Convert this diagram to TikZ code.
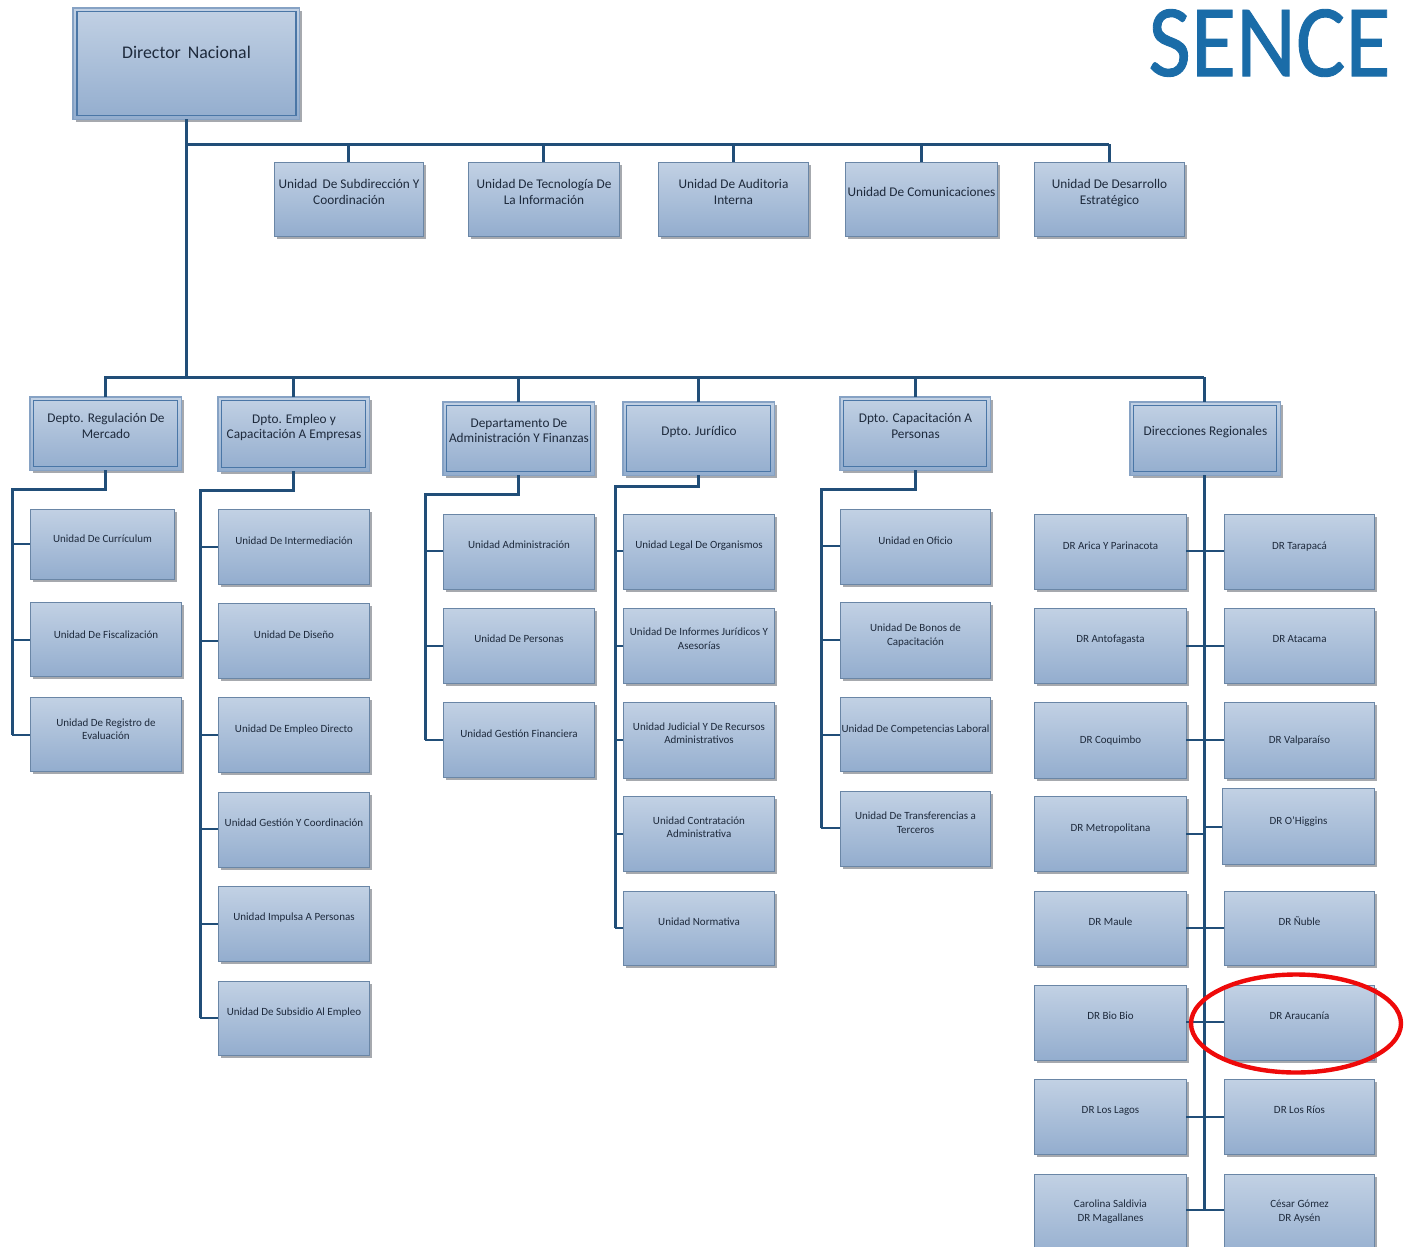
\documentclass[tikz,border=0pt]{standalone}
\usepackage{fontspec}
\setmainfont{Carlito}
\newfontfamily\logofont[FakeBold=0.9]{Carlito}
\usetikzlibrary{shadows,shapes.geometric}
\definecolor{conn}{HTML}{214E78}
\definecolor{boxtop}{HTML}{C2D1E4}
\definecolor{boxbot}{HTML}{93ADCE}
\definecolor{boxline}{HTML}{6A86A6}
\definecolor{frameline}{HTML}{4A76A6}
\definecolor{outerline}{HTML}{86A2C4}
\definecolor{shade}{HTML}{A6A9AE}
\definecolor{labelcol}{HTML}{1E2A3C}
\definecolor{logoblue}{HTML}{1A6CA8}
\definecolor{ringred}{HTML}{EE0A0A}
\tikzset{
  x=1pt,y=-1pt,
  boxbase/.style={rectangle,inner sep=0pt,outer sep=0pt,top color=boxtop,bottom color=boxbot,
    drop shadow={shadow xshift=3pt,shadow yshift=-3pt,fill=shade,opacity=1}},
  unitbox/.style={boxbase,draw=boxline,line width=1pt},
  headbox/.style={boxbase,draw=outerline,line width=1.2pt},
  innerframe/.style={draw=frameline,line width=1.2pt},
  lab/.style={align=center,inner sep=0pt,text=labelcol,font=\fontsize{11}{13.4}\selectfont},
  midlab/.style={lab,font=\fontsize{13.3}{15.6}\selectfont},
  toplab/.style={lab,font=\fontsize{17.8}{20}\selectfont},
  link/.style={draw=conn,line width=3pt,line join=miter},
  thinlink/.style={draw=conn,line width=2.6pt},
  redring/.style={ellipse,draw=ringred,line width=4.4pt,inner sep=0pt,fill=none},
}
% \bx{box style}{label style}{name}{x0}{y0}{x1}{y1}{label y}{text}
\newcommand{\bx}[9]{%
  \pgfmathsetmacro{\bw}{#6-#4-0.8}\pgfmathsetmacro{\bh}{#7-#5-0.8}%
  \pgfmathsetmacro{\cx}{(#4+#6-0.8)/2}\pgfmathsetmacro{\cy}{(#5+#7-0.8)/2}%
  \node[#1,minimum width=\bw pt,minimum height=\bh pt] (#3) at (\cx,\cy) {};%
  \pgfmathsetmacro{\tx}{(#4+#6)/2}\pgfmathsetmacro{\ty}{#8+1.4}%
  \node[#2] (#3-l) at (\tx,\ty) {\rule{0pt}{.75em}#9\rule[-.22em]{0pt}{.22em}};%
}
% head box with inner frame
\newcommand{\hd}[7]{%
  \bx{headbox}{midlab}{#1}{#2}{#3}{#4}{#5}{#6}{#7}%
  \draw[innerframe] ([shift={(3.6pt,-3.6pt)}]#1.north west) rectangle ([shift={(-3.6pt,3.6pt)}]#1.south east);%
}
% child box: {name}{x0}{y0}{x1}{y1}{label y}{text}{trunk x}{junction y}
\newcommand{\ch}[9]{%
  \bx{unitbox}{lab}{#1}{#2}{#3}{#4}{#5}{#6}{#7}%
  \coordinate (#1-j) at (#8,#9);%
  \draw[thinlink] (#1-j) -- (#1-j -| #1.west);%
}
\newcommand{\rg}[9]{%
  \bx{unitbox}{lab}{#1}{#2}{#3}{#4}{#5}{#6}{#7}%
  \coordinate (#1-j) at (#8,#9);%
  \draw[thinlink] (#1-j) -- (#1-j -| #1.east);%
}
\begin{document}
\begin{tikzpicture}
\clip (0,0) rectangle (1406,1247);
\fill[white] (0,0) rectangle (1406,1247);

% logo
\node[inner sep=0pt,text=logoblue,font=\logofont\fontsize{103}{103}\selectfont,xscale=0.9] (logo) at (1269.5,43) {SENCE};

% director
\bx{headbox}{toplab}{dir}{73}{8}{300}{120}{52}{Director\, Nacional}
\draw[innerframe] ([shift={(4pt,-3.6pt)}]dir.north west) rectangle ([shift={(-3.2pt,3.6pt)}]dir.south east);

% second row
\bx{unitbox}{midlab}{u1}{274}{162}{424}{237}{191.5}{Unidad\, De Subdirección Y\\Coordinación}
\bx{unitbox}{midlab}{u2}{468}{162}{620}{237}{191.5}{Unidad De Tecnología De\\La Información}
\bx{unitbox}{midlab}{u3}{658}{162}{809}{237}{191.5}{Unidad De Auditoria\\Interna}
\bx{unitbox}{midlab}{u4}{845}{162}{998}{237}{191.5}{Unidad De Comunicaciones}
\bx{unitbox}{midlab}{u5}{1034}{162}{1185}{237}{191.5}{Unidad De Desarrollo\\Estratégico}

\coordinate (busA) at (dir.south |- {(0,144)});
\coordinate (busAend) at (1109,144);
\coordinate (busB) at (dir.south |- {(0,377)});
\draw[link] (dir.south) -- (busB);
\draw[link] (busA) -- (busAend);
\foreach \u in {u1,u2,u3,u4,u5} \draw[link] (\u.north) -- (\u.north |- busA);

% departments
\hd{d1}{30}{397}{182}{471}{425.5}{Depto. Regulación De\\Mercado}
\hd{d2}{218}{397}{370}{472}{426}{Dpto. Empleo y\\Capacitación A Empresas}
\hd{d3}{443}{402}{595}{476}{430}{Departamento De\\Administración Y Finanzas}
\hd{d4}{623}{402}{775}{476}{431}{Dpto. Jurídico}
\hd{d5}{840}{397}{991}{471}{425.5}{Dpto. Capacitación A\\Personas}
\hd{d6}{1130}{402}{1281}{476}{431}{Direcciones Regionales}

\coordinate (busBl) at (104,377);
\coordinate (busBr) at (1204,377);
\draw[link] (busBl) -- (busBr);
\foreach \d in {d1,d2,d3,d4,d5} \draw[link] (\d.north) -- (\d.north |- busB);
\draw[link] (busBr) -- (busBr |- d6.north);

% D1 children
\ch{a1}{30}{509}{175}{580}{538}{Unidad De Currículum}{12}{544}
\ch{a2}{30}{602}{182}{677}{634}{Unidad De Fiscalización}{12}{640}
\ch{a3}{30}{697}{182}{772}{728.5}{Unidad De Registro de\\Evaluación}{12}{735}
\coordinate (tr1) at (12,489);
\draw[link] (d1.south) |- (tr1) -- (a3-j);

% D2 children
\ch{b1}{218}{509}{370}{585}{540}{Unidad De Intermediación}{200}{547}
\ch{b2}{218}{603}{370}{679}{634}{Unidad De Diseño}{200}{641}
\ch{b3}{218}{697}{370}{773}{728}{Unidad De Empleo Directo}{200}{735}
\ch{b4}{218}{792}{370}{868}{822}{Unidad Gestión Y Coordinación}{200}{829}
\ch{b5}{218}{886}{370}{962}{916}{Unidad Impulsa A Personas}{200}{924}
\ch{b6}{218}{981}{370}{1056}{1011}{Unidad De Subsidio Al Empleo}{200}{1018}
\coordinate (tr2) at (200,490);
\draw[link] (d2.south) |- (tr2) -- (b6-j);

% D3 children
\ch{c1}{443}{514}{595}{590}{544}{Unidad Administración}{425}{551}
\ch{c2}{443}{608}{595}{684}{638}{Unidad De Personas}{425}{646}
\ch{c3}{443}{702}{595}{778}{733}{Unidad Gestión Financiera}{425}{740}
\coordinate (tr3) at (425,494);
\draw[link] (d3.south) |- (tr3) -- (c3-j);

% D4 children
\ch{e1}{623}{514}{775}{590}{544}{Unidad Legal De Organismos}{615}{551}
\ch{e2}{623}{608}{775}{684}{638}{Unidad De Informes Jurídicos Y\\Asesorías}{615}{646}
\ch{e3}{623}{702}{775}{779}{732.5}{Unidad Judicial Y De Recursos\\Administrativos}{615}{740}
\ch{e4}{623}{796}{775}{872}{826.5}{Unidad Contratación\\Administrativa}{615}{834}
\ch{e5}{623}{891}{775}{966}{921}{Unidad Normativa}{615}{928}
\coordinate (tr4) at (615,486);
\draw[link] (d4.south) |- (tr4) -- (e5-j);

% D5 children
\ch{f1}{840}{509}{991}{585}{540}{Unidad en Oficio}{821}{546}
\ch{f2}{840}{602}{991}{679}{634}{Unidad De Bonos de\\Capacitación}{821}{640}
\ch{f3}{840}{697}{991}{772}{728}{Unidad De Competencias Laboral}{821}{735}
\ch{f4}{840}{791}{991}{867}{822}{Unidad De Transferencias a\\Terceros}{821}{828}
\coordinate (tr5) at (821,489);
\draw[link] (d5.south) |- (tr5) -- (f4-j);

% D6 children, left
\rg{gl1}{1034}{514}{1187}{590}{545}{DR Arica Y Parinacota}{1204}{551}
\rg{gl2}{1034}{608}{1187}{684}{638}{DR Antofagasta}{1204}{646}
\rg{gl3}{1034}{702}{1187}{779}{739}{DR Coquimbo}{1204}{740}
\rg{gl4}{1034}{796}{1187}{872}{827}{DR Metropolitana}{1204}{834}
\rg{gl5}{1034}{891}{1187}{966}{921}{DR Maule}{1204}{928}
\rg{gl6}{1034}{985}{1187}{1061}{1015}{DR Bio Bio}{1204}{1022}
\rg{gl7}{1034}{1079}{1187}{1155}{1109}{DR Los Lagos}{1204}{1117}
\rg{gl8}{1034}{1174}{1187}{1262}{1210}{Carolina Saldivia\\DR Magallanes}{1204}{1210}
% D6 children, right
\ch{gr1}{1224}{514}{1375}{590}{545}{DR Tarapacá}{1204}{551}
\ch{gr2}{1224}{608}{1375}{684}{638}{DR Atacama}{1204}{646}
\ch{gr3}{1224}{702}{1375}{779}{739}{DR Valparaíso}{1204}{740}
\ch{gr4}{1222}{788}{1375}{865}{820}{DR O’Higgins}{1204}{827}
\ch{gr5}{1224}{891}{1375}{966}{921}{DR Ñuble}{1204}{928}
\ch{gr6}{1224}{985}{1375}{1061}{1015}{DR Araucanía}{1204}{1022}
\ch{gr7}{1224}{1079}{1375}{1155}{1109}{DR Los Ríos}{1204}{1117}
\ch{gr8}{1224}{1174}{1375}{1262}{1210}{César Gómez\\DR Aysén}{1204}{1210}
\draw[link] (gr8-j |- d6.south) -- (gr8-j);

% highlight
\node[redring,minimum width=210pt,minimum height=98pt] (ring) at (1296,1023.5) {};
\end{tikzpicture}
\end{document}
